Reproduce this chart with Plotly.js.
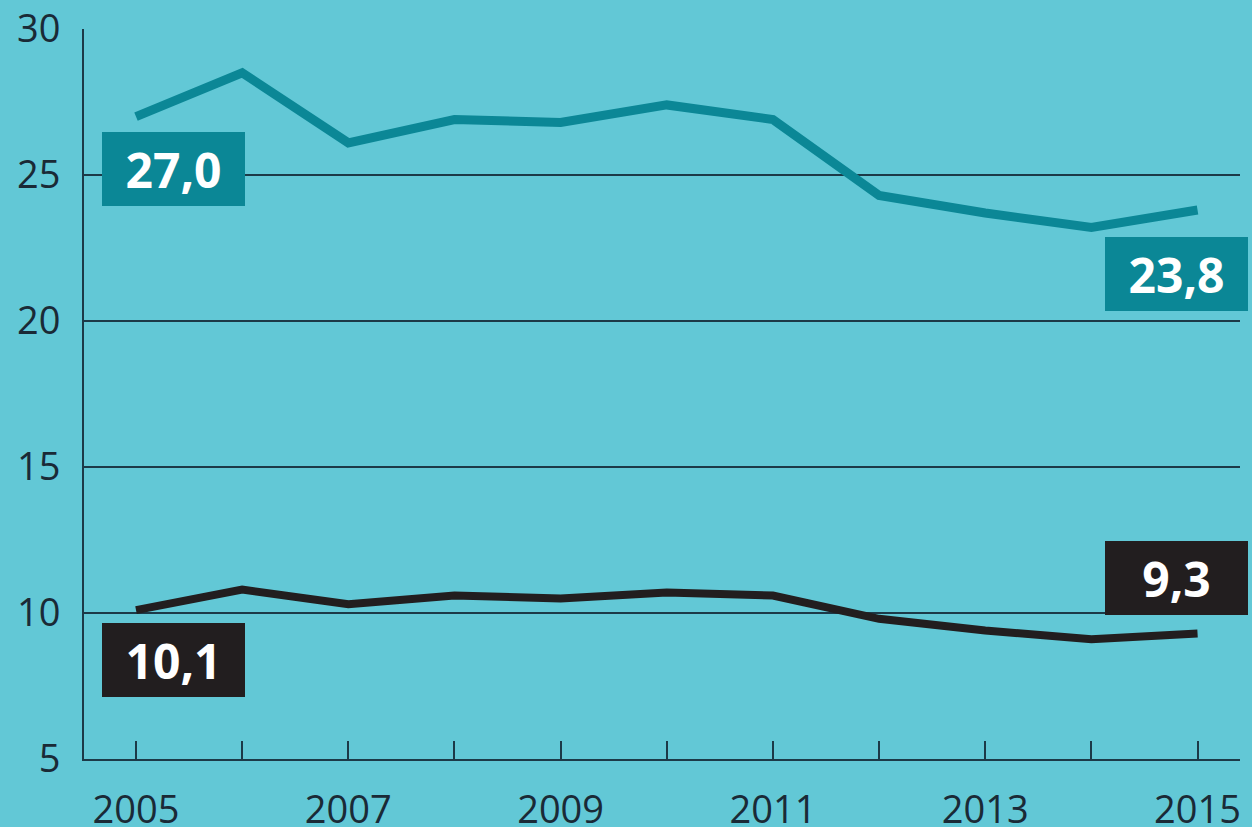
<!DOCTYPE html>
<html>
<head>
<meta charset="utf-8">
<script src="https://cdn.plot.ly/plotly-3.0.1.min.js"></script>
<style>
html,body{margin:0;padding:0;background:#62c8d6;}
#chart{width:1252px;height:827px;}
</style>
</head>
<body>
<div id="chart"></div>
<script>
const years = [2005, 2006, 2007, 2008, 2009, 2010, 2011, 2012, 2013, 2014, 2015];
const seriesTeal = [27.0, 28.5, 26.1, 26.9, 26.8, 27.4, 26.9, 24.3, 23.7, 23.2, 23.8];
const seriesBlack = [10.1, 10.8, 10.3, 10.6, 10.5, 10.7, 10.6, 9.8, 9.4, 9.1, 9.3];
const yTicks = [5, 10, 15, 20, 25, 30];
const xTickLabels = [2005, 2007, 2009, 2011, 2013, 2015];

const bg = '#62c8d6';
const tealColor = '#0b8796';
const blackColor = '#221e1f';
const gridColor = '#1c3a48';
const textColor = '#1a2a36';

function fmt(v) { return v.toFixed(1).replace('.', ','); }

const last = years.length - 1;
const labelFont = {family: 'Open Sans, sans-serif', size: 48, color: '#ffffff', weight: 700};

function box(x, y, color, xs, ys) {
  return {
    x: x, y: y, xref: 'x', yref: 'y', text: '<b>' + fmt(y) + '</b>',
    showarrow: false, xanchor: 'center', yanchor: 'middle',
    xshift: xs, yshift: ys, width: 143, height: 74,
    bgcolor: color, borderpad: 0, borderwidth: 0,
    font: labelFont, align: 'center', valign: 'middle'
  };
}

const data = [
  {x: years, y: seriesTeal, type: 'scatter', mode: 'lines',
   line: {color: tealColor, width: 9}, hoverinfo: 'skip'},
  {x: years, y: seriesBlack, type: 'scatter', mode: 'lines',
   line: {color: blackColor, width: 8}, hoverinfo: 'skip'}
];

const layout = {
  width: 1252, height: 827,
  paper_bgcolor: bg, plot_bgcolor: bg,
  margin: {l: 84, r: 12, t: 29, b: 68},
  showlegend: false,
  font: {family: 'Open Sans, sans-serif', color: textColor},
  xaxis: {
    range: [2004.51, 2015.4],
    tickvals: xTickLabels, ticktext: xTickLabels.map(String),
    ticks: 'inside', ticklen: 18, tickwidth: 2, tickcolor: gridColor,
    minor: {dtick: 1, tick0: 2005, ticks: 'inside', ticklen: 18, tickwidth: 2, tickcolor: gridColor, showgrid: false},
    showgrid: false, zeroline: false,
    showline: true, linecolor: gridColor, linewidth: 2,
    tickfont: {size: 38, color: textColor, family: 'Open Sans, sans-serif'},
    ticklabelstandoff: 16,
    fixedrange: true
  },
  yaxis: {
    range: [5, 30],
    tickvals: yTicks, ticktext: yTicks.map(String),
    ticks: '', showgrid: true, gridcolor: gridColor, gridwidth: 2,
    zeroline: false, showline: true, linecolor: gridColor, linewidth: 2,
    tickfont: {size: 38, color: textColor, family: 'Open Sans, sans-serif'},
    ticklabelstandoff: 14,
    fixedrange: true
  },
  annotations: [
    box(years[0], seriesTeal[0], tealColor, 37, -52),
    box(years[last], seriesTeal[last], tealColor, -21, -64),
    box(years[0], seriesBlack[0], blackColor, 37, -50),
    box(years[last], seriesBlack[last], blackColor, -21, 55)
  ]
};

Plotly.newPlot('chart', data, layout, {displayModeBar: false, staticPlot: true});
</script>
</body>
</html>
